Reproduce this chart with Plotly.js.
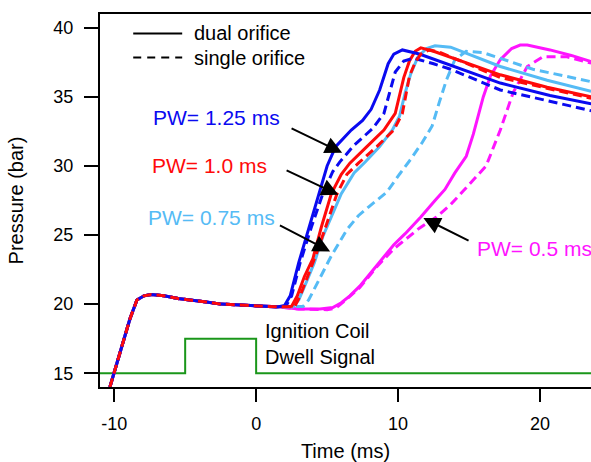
<!DOCTYPE html>
<html>
<head>
<meta charset="utf-8">
<script src="https://cdn.plot.ly/plotly-3.0.1.min.js"></script>
<style>html,body{margin:0;padding:0;background:#fff;overflow:hidden}#chart{width:591px;height:462px}</style>
</head>
<body>
<div id="chart"></div>
<script>
// ---- data ----
// shared early part of every pressure trace
const baseTime = [-10.3, -9.9, -9.4, -8.9, -8.4, -7.9, -7.4, -6.5, -5.5, -4.5, -3.5, -2.5, -1.5, -0.5, 0.5, 1.5];
const basePressure = [14.0, 15.4, 17.2, 18.9, 20.3, 20.6, 20.7, 20.6, 20.4, 20.3, 20.15, 20.0, 19.95, 19.9, 19.85, 19.8];

// PW = 1.25 ms
const dual125Time = [2.0, 2.4, 3.0, 3.8, 4.4, 5.0, 5.6, 6.7, 7.5, 8.1, 8.7, 9.3, 9.7, 10.3, 11.5, 13.7, 17.2, 20.7, 23.6];
const dual125P    = [19.9, 20.6, 23.0, 25.8, 28.0, 30.0, 31.4, 32.6, 33.3, 34.1, 35.5, 37.4, 38.1, 38.4, 38.1, 37.3, 36.0, 35.1, 34.5];
const single125Time = [2.1, 2.5, 3.1, 3.9, 4.7, 5.4, 5.9, 6.9, 8.2, 9.0, 9.4, 9.8, 10.4, 11.1, 12.5, 13.7, 17.2, 20.5, 23.6];
const single125P    = [19.85, 20.6, 23.0, 25.6, 28.0, 29.6, 30.3, 31.5, 32.7, 33.8, 35.3, 36.8, 37.6, 37.8, 37.4, 37.0, 35.5, 34.7, 34.0];

// PW = 1.0 ms
const dual10Time = [2.5, 2.9, 3.4, 4.0, 4.6, 5.3, 6.0, 6.6, 7.8, 9.0, 9.8, 10.1, 10.4, 10.8, 11.2, 11.6, 12.5, 17.2, 20.5, 23.6];
const dual10P    = [19.85, 20.6, 22.0, 23.3, 25.6, 28.0, 29.4, 30.2, 31.4, 32.6, 33.8, 35.0, 36.4, 37.6, 38.3, 38.55, 38.3, 36.6, 35.7, 35.0];
const single10Time = [2.7, 3.1, 3.7, 4.3, 4.9, 5.7, 6.4, 7.2, 8.5, 9.7, 10.3, 10.5, 10.8, 11.2, 11.6, 12.2, 13.0, 17.2, 20.5, 23.6];
const single10P    = [19.8, 20.6, 22.2, 23.8, 25.6, 28.0, 29.4, 30.2, 31.4, 32.6, 33.8, 35.0, 36.5, 37.5, 38.1, 38.4, 38.2, 36.4, 35.6, 34.9];

// PW = 0.75 ms
const dual075Time = [2.6, 3.0, 3.5, 4.1, 4.7, 5.3, 6.0, 6.9, 7.7, 8.7, 9.6, 10.1, 10.5, 10.9, 11.4, 12.0, 12.6, 13.7, 17.2, 20.5, 23.6];
const dual075P    = [19.8, 20.3, 21.5, 23.0, 24.9, 26.3, 28.0, 29.5, 30.3, 31.4, 32.6, 33.6, 35.3, 36.7, 37.9, 38.5, 38.7, 38.6, 37.2, 36.2, 35.4];
const single075Time = [3.3, 3.7, 4.3, 5.3, 6.4, 7.2, 8.0, 9.2, 10.1, 10.9, 11.7, 12.4, 12.9, 13.4, 14.0, 14.8, 16.0, 19.5, 23.6];
const single075P    = [19.83, 20.3, 21.5, 23.5, 25.4, 26.4, 27.1, 28.1, 29.4, 30.5, 31.7, 32.9, 34.6, 36.2, 37.7, 38.3, 38.2, 37.0, 36.1];

// PW = 0.5 ms
const dual05Time = [3.0, 4.5, 5.4, 6.0, 6.6, 7.3, 8.5, 9.7, 10.5, 11.6, 12.6, 13.3, 14.0, 14.8, 15.3, 15.7, 16.0, 16.5, 17.2, 18.0, 18.6, 19.1, 20.7, 22.2, 23.6];
const dual05P    = [19.65, 19.65, 19.75, 20.1, 20.6, 21.3, 22.8, 24.3, 25.1, 26.3, 27.5, 28.3, 29.5, 30.7, 32.3, 33.9, 35.0, 36.5, 37.7, 38.5, 38.75, 38.75, 38.4, 38.0, 37.55];
const single05Time = [3.0, 5.0, 5.6, 6.2, 7.3, 8.5, 9.7, 10.4, 11.5, 12.7, 13.7, 14.6, 15.3, 16.2, 17.2, 18.1, 19.1, 20.2, 21.9, 23.6];
const single05P    = [19.65, 19.6, 19.7, 20.2, 21.2, 22.7, 24.0, 24.6, 25.5, 26.3, 27.2, 28.2, 29.0, 30.0, 32.6, 35.3, 37.2, 37.9, 37.9, 37.45];

// ignition coil dwell signal
const dwellTime = [-11, -5, -5, 0, 0, 23.6];
const dwellLevel = [15, 15, 17.5, 17.5, 15, 15];

const tickX = [-10, 0, 10, 20];
const tickY = [15, 20, 25, 30, 35, 40];

// ---- styling ----
const C_BLUE = '#0a0af0', C_RED = '#ff0a0a', C_LBLUE = '#55bbf5', C_MAG = '#ff14ff', C_GREEN = '#1a961a';
const FONT = 'Liberation Sans, Arial, Helvetica, sans-serif';
const DASH = '9px,5px';

function series(t, p, color, dashed) {
  return {
    x: baseTime.concat(t), y: basePressure.concat(p),
    type: 'scatter', mode: 'lines', showlegend: false, hoverinfo: 'skip',
    line: {color: color, width: 3, dash: dashed ? DASH : 'solid'}
  };
}

const traces = [
  {x: dwellTime, y: dwellLevel, type: 'scatter', mode: 'lines', showlegend: false,
   line: {color: C_GREEN, width: 2}},
  series(dual05Time, dual05P, C_MAG, false),
  series(single05Time, single05P, C_MAG, true),
  series(dual075Time, dual075P, C_LBLUE, false),
  series(single075Time, single075P, C_LBLUE, true),
  series(dual10Time, dual10P, C_RED, false),
  series(dual125Time, dual125P, C_BLUE, false),
  series(single125Time, single125P, C_BLUE, true),
  series(single10Time, single10P, C_RED, true)
];

function arrow(hx, hy, tx, ty) {
  return {x: hx, y: hy, ax: tx, ay: ty, xref: 'x', yref: 'y', axref: 'x', ayref: 'y',
          text: '', showarrow: true, arrowhead: 2, arrowsize: 1.7, arrowwidth: 2, arrowcolor: '#000'};
}
function label(x, y, txt, color, size) {
  return {x: x, y: y, xref: 'x', yref: 'y', text: txt, showarrow: false, xanchor: 'left', yanchor: 'middle',
          align: 'left', font: {family: FONT, size: size || 21, color: color}};
}

const layout = {
  width: 591, height: 462,
  margin: {l: 100, r: 0, t: 14, b: 75},
  paper_bgcolor: '#fff', plot_bgcolor: '#fff',
  font: {family: FONT, color: '#000'},
  xaxis: {
    range: [-11, 23.59], tickvals: tickX, ticktext: tickX.map(String),
    showgrid: false, zeroline: false, showline: true, mirror: true, linecolor: '#000', linewidth: 2,
    ticks: 'outside', ticklen: 13, tickwidth: 2, tickcolor: '#000', ticklabelstandoff: 6,
    tickfont: {family: FONT, size: 18, color: '#000'},
    title: {text: 'Time (ms)', font: {family: FONT, size: 20, color: '#000'}, standoff: 16}
  },
  yaxis: {
    range: [14.0, 41.0], tickvals: tickY, ticktext: tickY.map(String),
    showgrid: false, zeroline: false, showline: true, mirror: false, linecolor: '#000', linewidth: 2,
    ticks: 'outside', ticklen: 14, tickwidth: 2, tickcolor: '#000', ticklabelstandoff: 7,
    tickfont: {family: FONT, size: 18, color: '#000'},
    title: {text: 'Pressure (bar)', font: {family: FONT, size: 20, color: '#000'}, standoff: 24}
  },
  shapes: [
    {type: 'line', xref: 'x', yref: 'y', x0: -8.66, x1: -5.21, y0: 39.59, y1: 39.59, line: {color: '#000', width: 2}},
    {type: 'line', xref: 'x', yref: 'y', x0: -8.66, x1: -5.21, y0: 37.85, y1: 37.85, line: {color: '#000', width: 2, dash: '8px,6px'}}
  ],
  annotations: [
    label(-4.55, 39.59, 'dual orifice', '#000', 20),
    label(-4.55, 37.85, 'single orifice', '#000', 20),
    label(-7.4, 33.52, 'PW= 1.25 ms', C_BLUE),
    label(-7.5, 30.04, 'PW= 1.0 ms', C_RED),
    label(-7.75, 26.29, 'PW= 0.75 ms', C_LBLUE),
    label(15.4, 24.0, 'PW= 0.5 ms', C_MAG),
    label(0.45, 17.08, 'Ignition Coil<br>Dwell Signal', '#000', 20),
    arrow(6.06, 30.96, 2.39, 32.78),
    arrow(5.80, 27.92, 2.04, 29.73),
    arrow(5.21, 23.81, 1.57, 25.75),
    arrow(11.78, 26.23, 15.07, 24.54)
  ]
};

Plotly.newPlot('chart', traces, layout, {staticPlot: true, displayModeBar: false});
</script>
</body>
</html>
